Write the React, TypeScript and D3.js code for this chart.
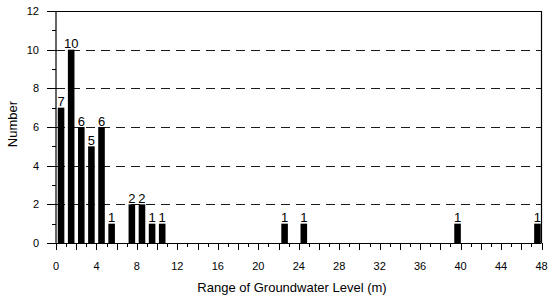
import React, { useEffect, useRef } from 'react';
import * as d3 from 'd3';

// bin centres (m) and how many wells fall in each bin
const binCenters = [0.5, 1.5, 2.5, 3.5, 4.5, 5.5, 7.5, 8.5, 9.5, 10.5, 22.6, 24.5, 39.7, 47.6];
const counts = [7, 10, 6, 5, 6, 1, 2, 2, 1, 1, 1, 1, 1, 1];

const yTicks = [0, 2, 4, 6, 8, 10, 12];
const yMinorTicks = [1, 3, 5, 7, 9, 11];
const xTickLabels = [0, 4, 8, 12, 16, 20, 24, 28, 32, 36, 40, 44, 48];
const xAllTicks = d3.range(0, 49);

const xTitle = 'Range of Groundwater Level (m)';
const yTitle = 'Number';

const FONT = '"Liberation Sans", Arial, sans-serif';

const App = () => {
    const width = 548;
    const height = 300;
    const svgRef = useRef(null);

    // plot area
    const left = 56;
    const right = 541.5;
    const top = 11;
    const bottom = 243;

    const x_scale = d3.scaleLinear().domain([0, 48]).range([left, right]);
    const y_scale = d3.scaleLinear().domain([0, 12]).range([bottom, top]);
    const barW = x_scale(0.65) - x_scale(0);

    useEffect(() => {
        const svg = d3.select(svgRef.current);
        svg.selectAll('*').remove();

        svg.append('rect')
            .attr('width', width)
            .attr('height', height)
            .attr('fill', '#fff');

        // dashed grid lines (major ticks stick out to the left)
        svg.append('g')
            .selectAll('line')
            .data(yTicks.filter(d => d > 0 && d < 12))
            .enter().append('line')
            .attr('x1', left)
            .attr('x2', right)
            .attr('y1', d => Math.round(y_scale(d)) + 0.5)
            .attr('y2', d => Math.round(y_scale(d)) + 0.5)
            .attr('stroke', '#1a1a1a')
            .attr('stroke-width', 1)
            .attr('stroke-dasharray', '9,6');

        // major ticks on y
        svg.append('g')
            .selectAll('line')
            .data(yTicks)
            .enter().append('line')
            .attr('x1', left - 9)
            .attr('x2', left)
            .attr('y1', d => Math.round(y_scale(d)) + 0.5)
            .attr('y2', d => Math.round(y_scale(d)) + 0.5)
            .attr('stroke', '#000');

        // minor ticks on y
        svg.append('g')
            .selectAll('line')
            .data(yMinorTicks)
            .enter().append('line')
            .attr('x1', left - 4)
            .attr('x2', left)
            .attr('y1', d => Math.round(y_scale(d)) + 0.5)
            .attr('y2', d => Math.round(y_scale(d)) + 0.5)
            .attr('stroke', '#000');

        // bars
        svg.append('g')
            .selectAll('rect')
            .data(counts)
            .enter().append('rect')
            .attr('x', (d, i) => x_scale(binCenters[i]) - barW / 2)
            .attr('y', d => y_scale(d))
            .attr('width', barW)
            .attr('height', d => bottom - y_scale(d))
            .attr('fill', '#000');

        // value labels
        svg.append('g')
            .selectAll('text')
            .data(counts)
            .enter().append('text')
            .attr('x', (d, i) => x_scale(binCenters[i]))
            .attr('y', d => y_scale(d) - 1.5)
            .attr('text-anchor', 'middle')
            .attr('font-family', FONT)
            .attr('font-size', 13)
            .attr('fill', '#000')
            .text(d => d);

        // frame: top, right, y axis, x axis
        const frame = svg.append('g').attr('stroke', '#000').attr('stroke-width', 1.2);
        frame.append('line').attr('x1', left - 9).attr('x2', right).attr('y1', top + 0.5).attr('y2', top + 0.5);
        frame.append('line').attr('x1', right).attr('x2', right).attr('y1', top).attr('y2', bottom);
        frame.append('line').attr('x1', left).attr('x2', left).attr('y1', top).attr('y2', bottom);
        frame.append('line').attr('x1', left).attr('x2', right).attr('y1', bottom + 0.5).attr('y2', bottom + 0.5);

        // x ticks, every metre, longer on even values
        svg.append('g')
            .selectAll('line')
            .data(xAllTicks)
            .enter().append('line')
            .attr('x1', d => Math.round(x_scale(d)) + 0.5)
            .attr('x2', d => Math.round(x_scale(d)) + 0.5)
            .attr('y1', bottom)
            .attr('y2', d => bottom + (d % 2 === 0 ? 7 : 4))
            .attr('stroke', '#000');

        // x tick labels
        svg.append('g')
            .selectAll('text')
            .data(xTickLabels)
            .enter().append('text')
            .attr('x', d => x_scale(d))
            .attr('y', 270)
            .attr('text-anchor', 'middle')
            .attr('font-family', FONT)
            .attr('font-size', 11)
            .text(d => d);

        // y tick labels
        svg.append('g')
            .selectAll('text')
            .data(yTicks)
            .enter().append('text')
            .attr('x', 39)
            .attr('y', d => y_scale(d) + 4)
            .attr('text-anchor', 'end')
            .attr('font-family', FONT)
            .attr('font-size', 11)
            .text(d => d);

        // titles
        svg.append('text')
            .attr('x', 292)
            .attr('y', 292)
            .attr('text-anchor', 'middle')
            .attr('font-family', FONT)
            .attr('font-size', 13)
            .text(xTitle);

        svg.append('text')
            .attr('transform', 'translate(17 124) rotate(-90)')
            .attr('text-anchor', 'middle')
            .attr('font-family', FONT)
            .attr('font-size', 13)
            .text(yTitle);
    }, []);

    return <React.Fragment>
        <svg ref={svgRef} width={width} height={height}
            style={{ position: 'absolute', left: 0, top: 0 }} />
    </React.Fragment>;
};

export default App;
